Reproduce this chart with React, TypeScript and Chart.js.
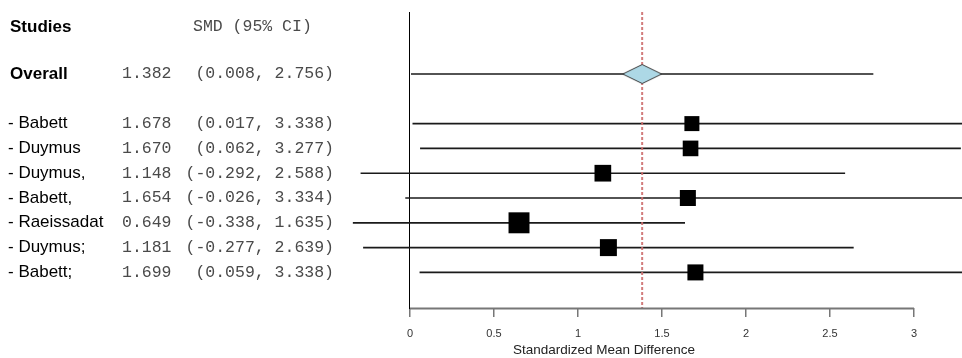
import React, { useEffect, useRef } from 'react';
import { Chart, registerables } from 'chart.js';

Chart.register(...registerables);

// ---------- data ----------
const studyLabels = ['- Babett', '- Duymus', '- Duymus,', '- Babett,', '- Raeissadat', '- Duymus;', '- Babett;'];
const studySmd = [1.678, 1.670, 1.148, 1.654, 0.649, 1.181, 1.699];
const studyLower = [0.017, 0.062, -0.292, -0.026, -0.338, -0.277, 0.059];
const studyUpper = [3.338, 3.277, 2.588, 3.334, 1.635, 2.639, 3.338];
const studyWeights = [11.3, 12.3, 14.0, 12.9, 22.1, 14.5, 12.9];

const overallLabel = 'Overall';
const overallSmd = 1.382;
const overallLower = 0.008;
const overallUpper = 2.756;

const headerStudies = 'Studies';
const headerSmd = 'SMD (95% CI)';
const xAxisTitle = 'Standardized Mean Difference';
const xTickValues = [0, 0.5, 1, 1.5, 2, 2.5, 3];
const xTickLabels = ['0', '0.5', '1', '1.5', '2', '2.5', '3'];

// ---------- layout helpers ----------
const W = 962;
const H = 358;
const X_MIN = -0.976;
const X_MAX = 3.2857;
const Y_MIN = -2.5;
const Y_MAX = 9.435;
const HEADER_ROW = -1.9;
const OVERALL_ROW = 0;
const studyRow = (i: number) => i + 2;
const boxRadius = (w: number) => (Math.sqrt(w) * 4.46) / (2 * Math.SQRT1_2);

const SANS = '"Liberation Sans", Arial, sans-serif';
const MONO = '"Liberation Mono", "Courier New", monospace';

const fmt = (v: number) => v.toFixed(3);
const ciText = (lo: number, hi: number) => `(${fmt(lo)}, ${fmt(hi)})`;

function makeDiamond(): HTMLCanvasElement {
  const c = document.createElement('canvas');
  c.width = 41;
  c.height = 22;
  const g = c.getContext('2d')!;
  g.beginPath();
  g.moveTo(1, 11);
  g.lineTo(20.5, 1.5);
  g.lineTo(40, 11);
  g.lineTo(20.5, 20.5);
  g.closePath();
  g.fillStyle = '#add8e6';
  g.fill();
  g.strokeStyle = '#3a3a3a';
  g.lineWidth = 1;
  g.stroke();
  return c;
}

const zeroPadding = (scale: any) => {
  scale.paddingLeft = 0;
  scale.paddingRight = 0;
  scale.paddingTop = 0;
  scale.paddingBottom = 0;
};

const forestPlugin = {
  id: 'forestText',
  afterDraw(chart: any) {
    const { ctx, chartArea, scales } = chart;
    const x = scales.x;
    const y = scales.y;
    ctx.save();
    // x axis base line spanning only the tick range
    ctx.strokeStyle = '#777';
    ctx.lineWidth = 2;
    ctx.beginPath();
    ctx.moveTo(x.getPixelForValue(xTickValues[0]), chartArea.bottom + 0.5);
    ctx.lineTo(x.getPixelForValue(xTickValues[xTickValues.length - 1]), chartArea.bottom + 0.5);
    ctx.stroke();

    ctx.textBaseline = 'middle';
    // header
    let py = y.getPixelForValue(HEADER_ROW);
    ctx.fillStyle = '#000';
    ctx.font = `bold 17px ${SANS}`;
    ctx.textAlign = 'left';
    ctx.fillText(headerStudies, 10, py);
    ctx.fillStyle = '#4a4a4a';
    ctx.font = `16.5px ${MONO}`;
    ctx.fillText(headerSmd, 193, py);

    // overall
    py = y.getPixelForValue(OVERALL_ROW);
    ctx.fillStyle = '#000';
    ctx.font = `bold 17px ${SANS}`;
    ctx.fillText(overallLabel, 10, py);
    ctx.fillStyle = '#4a4a4a';
    ctx.font = `16.5px ${MONO}`;
    ctx.fillText(fmt(overallSmd), 122, py);
    ctx.textAlign = 'right';
    ctx.fillText(ciText(overallLower, overallUpper), 334, py);

    // studies
    studyLabels.forEach((lab, i) => {
      const yy = y.getPixelForValue(studyRow(i));
      ctx.textAlign = 'left';
      ctx.fillStyle = '#000';
      ctx.font = `17px ${SANS}`;
      ctx.fillText(lab, 8, yy);
      ctx.fillStyle = '#4a4a4a';
      ctx.font = `16.5px ${MONO}`;
      ctx.fillText(fmt(studySmd[i]), 122, yy);
      ctx.textAlign = 'right';
      ctx.fillText(ciText(studyLower[i], studyUpper[i]), 334, yy);
    });
    ctx.restore();
  },
};

export default function App() {
  const ref = useRef<HTMLCanvasElement | null>(null);

  useEffect(() => {
    document.body.style.margin = '0';
    const canvas = ref.current!;
    const diamond = makeDiamond();

    const ciData = [
      { x: [overallLower, overallUpper], y: OVERALL_ROW },
      ...studyLabels.map((_, i) => ({ x: [studyLower[i], studyUpper[i]], y: studyRow(i) })),
    ];

    const chart = new Chart(canvas, {
      type: 'scatter',
      data: {
        datasets: [
          {
            type: 'scatter',
            label: 'overall',
            data: [{ x: overallSmd, y: OVERALL_ROW }],
            pointStyle: diamond,
            pointRadius: 10,
          } as any,
          {
            type: 'scatter',
            label: 'studies',
            data: studySmd.map((v, i) => ({ x: v, y: studyRow(i) })),
            pointStyle: 'rect',
            pointRadius: studyWeights.map(boxRadius),
            pointBackgroundColor: '#000',
            pointBorderColor: '#000',
            pointBorderWidth: 0,
          } as any,
          {
            type: 'scatter',
            label: 'pooled',
            data: [
              { x: overallSmd, y: Y_MIN },
              { x: overallSmd, y: Y_MAX },
            ],
            showLine: true,
            borderColor: 'rgba(205,110,110,0.9)',
            borderWidth: 2,
            borderDash: [3, 2],
            pointRadius: 0,
          } as any,
          {
            type: 'bar',
            label: 'ci',
            indexAxis: 'y',
            data: ciData,
            backgroundColor: '#1a1a1a',
            barThickness: 1,
            borderWidth: 0,
            borderSkipped: false,
            grouped: false,
          } as any,
        ],
      },
      options: {
        responsive: false,
        maintainAspectRatio: false,
        animation: false,
        devicePixelRatio: 1,
        layout: { autoPadding: false, padding: { left: 246, top: 12, right: 0, bottom: 0 } },
        plugins: { legend: { display: false }, tooltip: { enabled: false } },
        scales: {
          x: {
            type: 'linear',
            position: 'bottom',
            offset: false,
            min: X_MIN,
            max: X_MAX,
            afterBuildTicks: (scale: any) => {
              scale.ticks = xTickValues.map((v) => ({ value: v }));
            },
            afterFit: (scale: any) => {
              scale.height = 50;
              zeroPadding(scale);
            },
            ticks: {
              autoSkip: false,
              maxRotation: 0,
              padding: 10,
              color: '#333',
              font: { family: SANS, size: 11 },
              callback: (v: any) => {
                const idx = xTickValues.indexOf(Number(v));
                return idx >= 0 ? xTickLabels[idx] : '';
              },
            },
            grid: {
              offset: false,
              drawOnChartArea: false,
              drawTicks: true,
              tickLength: 9,
              color: '#777',
              lineWidth: 1.5,
            },
            border: { display: false },
            title: {
              display: true,
              text: xAxisTitle,
              color: '#222',
              font: { family: SANS, size: 13.5 },
              padding: { top: 0, bottom: 0 },
            },
          },
          y: {
            type: 'linear',
            position: { x: 0 },
            offset: false,
            min: Y_MIN,
            max: Y_MAX,
            reverse: true,
            afterFit: zeroPadding,
            ticks: { display: false },
            grid: { display: false, drawTicks: false, offset: false },
            border: { display: true, color: '#000', width: 1 },
          },
        },
      } as any,
      plugins: [forestPlugin],
    });

    return () => chart.destroy();
  }, []);

  return (
    <div style={{ width: W, height: H, background: '#fff' }}>
      <canvas ref={ref} width={W} height={H} style={{ display: 'block', width: W, height: H }} />
    </div>
  );
}
